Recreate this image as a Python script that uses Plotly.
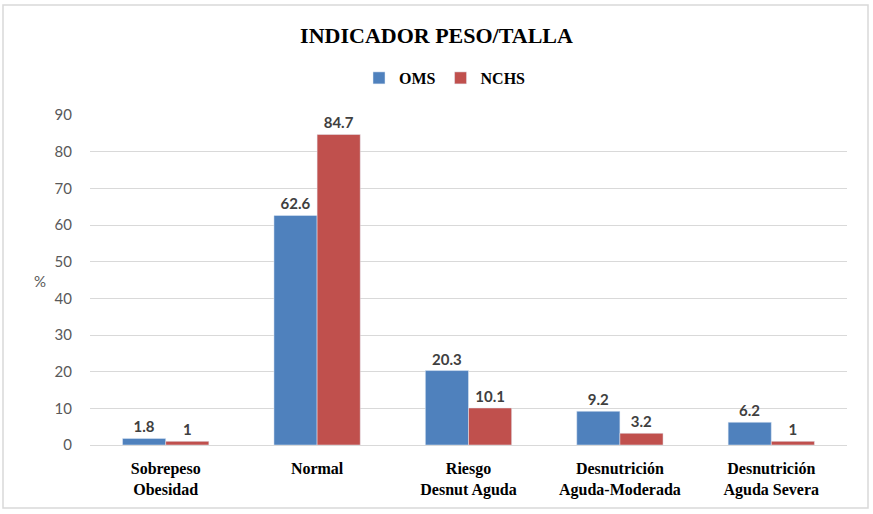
import plotly.graph_objects as go

categories = ["Sobrepeso<br>Obesidad", "Normal", "Riesgo<br>Desnut Aguda",
              "Desnutrición<br>Aguda-Moderada", "Desnutrición<br>Aguda Severa"]
oms = [1.8, 62.6, 20.3, 9.2, 6.2]
nchs = [1, 84.7, 10.1, 3.2, 1]
y_ticks = [0, 10, 20, 30, 40, 50, 60, 70, 80, 90]

label_font = dict(family="Lato, Open Sans, sans-serif", size=15, color="#404040")

fig = go.Figure()
fig.add_bar(name="<b>OMS</b>", x=categories, y=oms, marker_color="#4F81BD",
            text=[f"<b>{v:g}</b>" for v in oms], textposition="outside",
            textfont=label_font, cliponaxis=False)
fig.add_bar(name="<b>NCHS</b>", x=categories, y=nchs, marker_color="#C0504D",
            text=[f"<b>{v:g}</b>" for v in nchs], textposition="outside",
            textfont=label_font, cliponaxis=False)

fig.update_layout(
    width=873, height=514,
    paper_bgcolor="white", plot_bgcolor="white",
    margin=dict(l=90, r=26, t=115, b=69, autoexpand=False),
    barmode="group", bargap=0.43, bargroupgap=0,
    title=dict(text="<b>INDICADOR PESO/TALLA</b>", x=0.5, xanchor="center",
               y=1 - 35 / 514, yanchor="middle", yref="container",
               font=dict(family="Liberation Serif, Times New Roman, serif", size=22, color="black")),
    legend=dict(orientation="h", x=(445 - 90) / 757, xanchor="center", y=1 - 78 / 514,
                yanchor="middle", yref="container",
                font=dict(family="Liberation Serif, Times New Roman, serif", size=16, color="black"),
                itemwidth=30, traceorder="normal"),
    showlegend=True,
)

fig.update_yaxes(range=[0, 90], tickvals=y_ticks, showgrid=True, gridcolor="#D9D9D9",
                 gridwidth=1, zeroline=True, zerolinecolor="#D9D9D9", zerolinewidth=1,
                 tickfont=dict(family="Lato, Open Sans, sans-serif", size=15, color="#595959"),
                 ticks="outside", ticklen=14, tickcolor="rgba(0,0,0,0)",
                 showline=False, automargin=False)
fig.update_xaxes(showline=False, ticks="outside", ticklen=9, tickcolor="rgba(0,0,0,0)",
                 automargin=False,
                 tickfont=dict(family="Liberation Serif, Times New Roman, serif", size=16, color="black"),
                 tickprefix="<b>", ticksuffix="</b>")

fig.add_annotation(text="%", xref="paper", yref="paper", x=-0.066, y=(445 - 281) / 330,
                   xanchor="center", yanchor="middle", showarrow=False,
                   font=dict(family="Lato, Open Sans, sans-serif", size=15, color="#595959"))

fig.add_shape(type="rect", xref="paper", yref="paper",
              x0=(3 - 90) / 757, x1=(868 - 90) / 757,
              y0=(445 - 508) / 330, y1=(445 - 5) / 330,
              line=dict(color="#D9D9D9", width=1.5), fillcolor="rgba(0,0,0,0)", layer="below")

fig.write_html("out.html", config={"displayModeBar": False},
               post_script="document.body.style.margin='0';document.body.style.padding='0';")
